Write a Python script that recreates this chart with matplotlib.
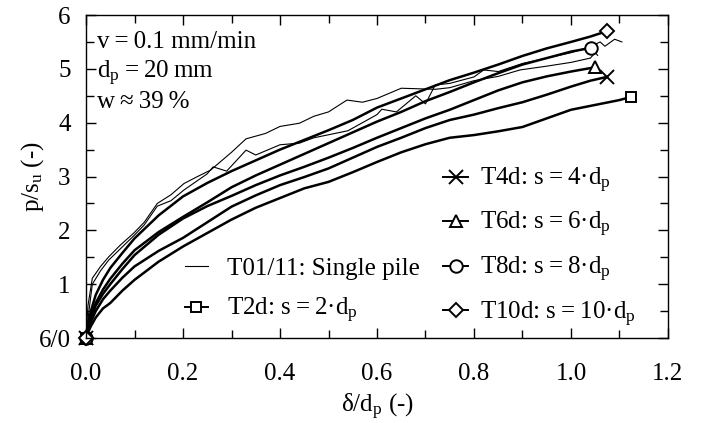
import numpy as np
import matplotlib
matplotlib.use("Agg")
import matplotlib.pyplot as plt
from matplotlib.lines import Line2D
from matplotlib.ticker import MultipleLocator

plt.rcParams['font.family'] = ['Liberation Serif', 'DejaVu Serif']
plt.rcParams['mathtext.fontset'] = 'custom'
plt.rcParams['mathtext.rm'] = 'Liberation Serif'
plt.rcParams['mathtext.default'] = 'regular'
plt.rcParams['font.size'] = 18

# common x grid for the group tests (delta/d_p)
x_grid = [0, 0.005, 0.01, 0.02, 0.035, 0.05, 0.075, 0.1, 0.15, 0.2, 0.25, 0.3,
          0.35, 0.4, 0.45, 0.5, 0.55, 0.6, 0.65, 0.7, 0.75, 0.8, 0.85, 0.9,
          0.95, 1.0]

# group tests p/s_u
t10_x = x_grid + [1.04, 1.074]
t10_y = [0, 0.3, 0.5, 0.8, 1.08, 1.3, 1.58, 1.85, 2.28, 2.63, 2.88, 3.1, 3.3,
         3.5, 3.68, 3.86, 4.05, 4.28, 4.45, 4.62, 4.79, 4.93, 5.08, 5.24, 5.38,
         5.5, 5.6, 5.70]
t8_x = x_grid + [1.041]
t8_y = [0, 0.22, 0.4, 0.65, 0.9, 1.1, 1.38, 1.63, 1.97, 2.25, 2.52, 2.8, 3.02,
        3.22, 3.42, 3.62, 3.82, 4.02, 4.2, 4.4, 4.57, 4.75, 4.92, 5.08, 5.2,
        5.32, 5.39]
t6_x = x_grid + [1.05]
t6_y = [0, 0.2, 0.36, 0.6, 0.82, 1.0, 1.28, 1.54, 1.92, 2.22, 2.45, 2.64, 2.84,
        3.02, 3.18, 3.35, 3.53, 3.72, 3.9, 4.08, 4.24, 4.42, 4.6, 4.75, 4.86,
        4.95, 5.03]
t4_x = x_grid + [1.04, 1.074]
t4_y = [0, 0.17, 0.3, 0.5, 0.72, 0.88, 1.12, 1.33, 1.62, 1.86, 2.15, 2.44, 2.65,
        2.84, 2.99, 3.15, 3.35, 3.55, 3.72, 3.9, 4.05, 4.15, 4.27, 4.38, 4.52,
        4.67, 4.78, 4.85]
t2_x = x_grid + [1.05, 1.1, 1.124]
t2_y = [0, 0.12, 0.22, 0.38, 0.55, 0.65, 0.88, 1.08, 1.42, 1.70, 1.95, 2.2, 2.42,
        2.6, 2.78, 2.9, 3.08, 3.27, 3.45, 3.6, 3.72, 3.77, 3.84, 3.92, 4.08,
        4.24, 4.33, 4.42, 4.48]

# single pile tests (T01, T11)
t01_x = [0, 0.004, 0.013, 0.03, 0.047, 0.07, 0.0985, 0.12, 0.147, 0.175, 0.202,
         0.23, 0.257, 0.3, 0.33, 0.37, 0.4, 0.44, 0.47, 0.5, 0.538, 0.57, 0.6,
         0.65, 0.72, 0.75, 0.8, 0.85, 0.895, 0.95, 1.0, 1.04, 1.05, 1.055]
t01_y = [0, 0.6, 1.11, 1.33, 1.51, 1.72, 1.95, 2.15, 2.5, 2.66, 2.87, 3.0, 3.12,
         3.45, 3.7, 3.8, 3.93, 3.99, 4.12, 4.2, 4.42, 4.38, 4.45, 4.64, 4.62,
         4.65, 4.78, 4.86, 4.98, 5.05, 5.12, 5.2, 5.3, 5.25]
t11_x = [0, 0.006, 0.013, 0.03, 0.047, 0.07, 0.0985, 0.12, 0.147, 0.175, 0.202,
         0.25, 0.262, 0.29, 0.33, 0.35, 0.4, 0.44, 0.47, 0.54, 0.6, 0.61, 0.64,
         0.68, 0.7, 0.72, 0.75, 0.8, 0.82, 0.85, 0.9, 0.95, 1.0, 1.04, 1.06,
         1.07, 1.09, 1.105]
t11_y = [0, 0.5, 1.0, 1.25, 1.45, 1.65, 1.9, 2.1, 2.45, 2.55, 2.75, 3.05, 3.18,
         3.1, 3.49, 3.4, 3.59, 3.62, 3.72, 3.85, 4.15, 4.25, 4.2, 4.5, 4.35,
         4.7, 4.73, 4.85, 4.98, 4.95, 5.1, 5.2, 5.3, 5.41, 5.5, 5.42, 5.55, 5.5]

y_ticks = [0, 1, 2, 3, 4, 5, 6]
y_tick_labels = ['6/0', '1', '2', '3', '4', '5', '6']
x_ticks = [0.0, 0.2, 0.4, 0.6, 0.8, 1.0, 1.2]

fig = plt.figure(figsize=(7.01, 4.23), dpi=100)
ax = fig.add_axes([0.1227, 0.2009, 0.8302, 0.7636])

thick = 1.8
thin = 0.8
mk = dict(markevery=[0, -1], markerfacecolor='white', markeredgecolor='black',
          markeredgewidth=1.4, clip_on=False)

ax.plot(t01_x, t01_y, color='black', lw=thin)
ax.plot(t11_x, t11_y, color='black', lw=thin)
ax.plot(t2_x, t2_y, color='black', lw=thick, marker='s', ms=7, **mk)
ax.plot(t4_x, t4_y, color='black', lw=thick, marker='x', ms=10, **mk)
ax.plot(t6_x, t6_y, color='black', lw=thick, marker='^', ms=9, **mk)
ax.plot(t8_x, t8_y, color='black', lw=thick, marker='o', ms=9, **mk)
ax.plot(t10_x, t10_y, color='black', lw=thick, marker='D', ms=7, **mk)

ax.set_xlim(0, 1.2)
ax.set_ylim(0, 6)
ax.set_xticks(x_ticks)
ax.set_xticklabels([f'{v:.1f}' for v in x_ticks])
ax.xaxis.set_minor_locator(MultipleLocator(0.1))
ax.set_yticks(y_ticks)
ax.set_yticklabels(y_tick_labels)
ax.yaxis.set_minor_locator(MultipleLocator(0.5))
ax.tick_params(which='both', direction='in', top=True, right=True, width=1.0)
ax.tick_params(which='major', length=7)
ax.tick_params(which='minor', length=6)
ax.tick_params(axis='x', which='major', pad=18)
ax.tick_params(axis='y', which='major', pad=11)
for s in ax.spines.values():
    s.set_linewidth(1.0)

ax.set_xlabel('δ/d$_p$ (-)')
ax.set_ylabel('p/s$_u$ (-)')
ax.xaxis.set_label_coords(0.5, -0.168)
ax.yaxis.set_label_coords(-0.068, 0.5)

ax.text(0.019, 0.898, 'v\u2009=\u20090.1 mm/min', transform=ax.transAxes, va='baseline')
ax.text(0.019, 0.805, 'd$_p$\u2009=\u200920\u2009mm', transform=ax.transAxes, va='baseline')
ax.text(0.019, 0.712, 'w\u2009≈\u200939\u2009%', transform=ax.transAxes, va='baseline')

lw_leg = 1.4
h_single = Line2D([], [], color='black', lw=thin)
h_t2 = Line2D([], [], color='black', lw=lw_leg, marker='s', ms=7, mfc='white', mew=1.4)
h_t4 = Line2D([], [], color='black', lw=lw_leg, marker='x', ms=10, mfc='white', mew=1.4)
h_t6 = Line2D([], [], color='black', lw=lw_leg, marker='^', ms=9, mfc='white', mew=1.4)
h_t8 = Line2D([], [], color='black', lw=lw_leg, marker='o', ms=9, mfc='white', mew=1.4)
h_t10 = Line2D([], [], color='black', lw=lw_leg, marker='D', ms=7, mfc='white', mew=1.4)

leg_right = ax.legend([h_t4, h_t6, h_t8, h_t10],
                      ['T4d: s\u2009=\u20094·d$_p$', 'T6d: s\u2009=\u20096·d$_p$',
                       'T8d: s\u2009=\u20098·d$_p$', 'T10d: s\u2009=\u200910·d$_p$'],
                      frameon=False, loc='lower left', bbox_to_anchor=(0.614, 0.029),
                      handlelength=1.0, handletextpad=0.45, labelspacing=0.62,
                      borderpad=0, borderaxespad=0)
ax.add_artist(leg_right)
ax.legend([h_single, h_t2],
          ['T01/11: Single pile', 'T2d: s\u2009=\u20092·d$_p$'],
          frameon=False, loc='lower left', bbox_to_anchor=(0.170, 0.040),
          handlelength=0.92, handletextpad=0.75, labelspacing=0.645,
          borderpad=0, borderaxespad=0)

fig.savefig('out.png', dpi=100)
